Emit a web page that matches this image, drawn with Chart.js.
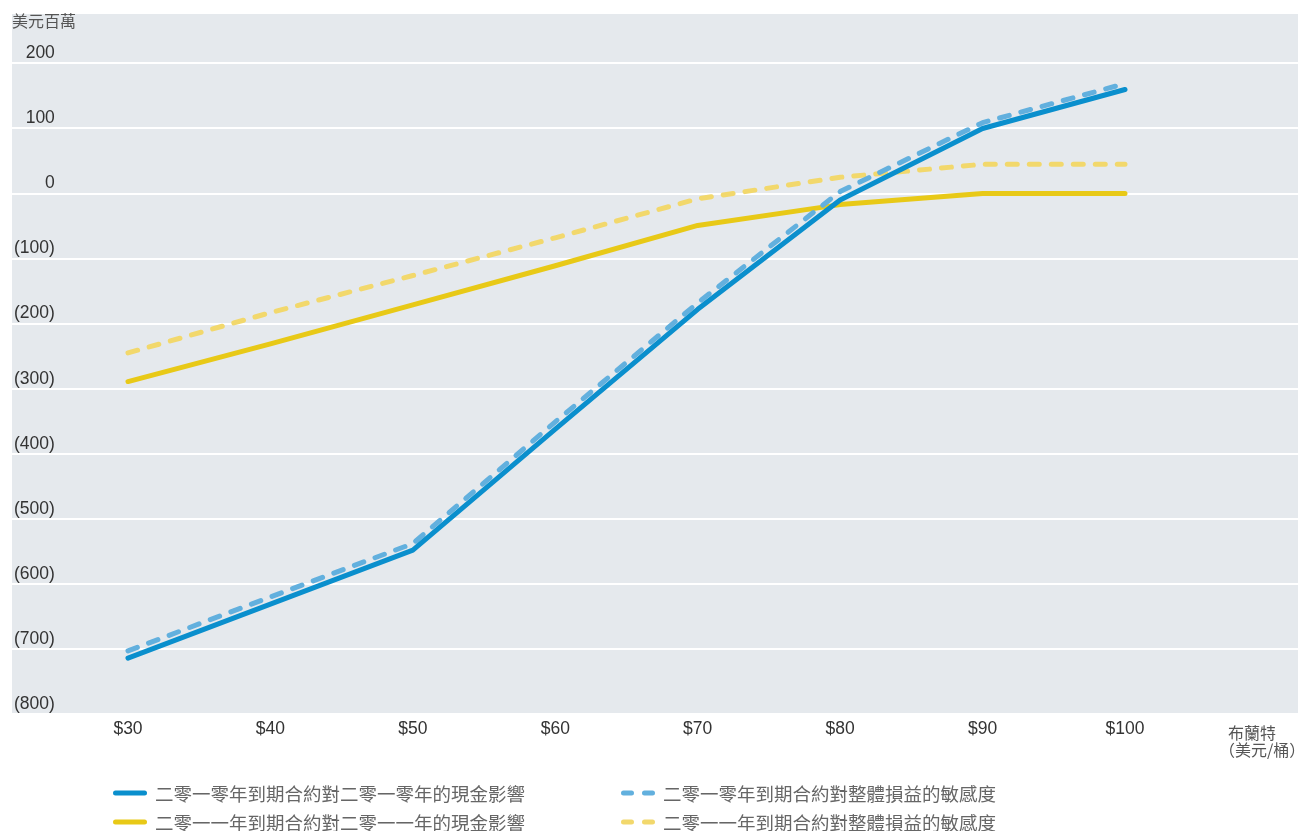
<!DOCTYPE html>
<html>
<head>
<meta charset="utf-8">
<script src="https://cdn.jsdelivr.net/npm/chart.js@4.4.0/dist/chart.umd.min.js"></script>
<style>
  html, body { margin: 0; padding: 0; background: #ffffff; }
  #wrap { position: relative; width: 1298px; height: 831px; overflow: hidden; }
  #chart { display: block; }
  #legend { position: absolute; left: 113px; top: 778px; display: grid; grid-template-columns: 508px auto; }
  .item { display: flex; align-items: center; height: 29px; font-family: "Noto Sans CJK TC", "Noto Sans", sans-serif; font-size: 18.5px; color: #666666; white-space: nowrap; }
  .item svg { margin-right: 8px; flex: none; }
</style>
</head>
<body>
<div id="wrap">
  <canvas id="chart" width="1298" height="831"></canvas>
  <div id="legend"></div>
</div>
<script>
// ---- data ----
const prices = [30, 40, 50, 60, 70, 80, 90, 100];
const cash2010 = [-714, -631, -548, -362, -178, -10, 100, 160];
const sens2010 = [-703, -620, -538, -351, -168, 3, 109, 169];
const cash2011 = [-289, -231, -171, -111, -49, -17, 0, 0];
const sens2011 = [-245, -183, -126, -68, -8, 25, 45, 45];
const yTickValues = [-800, -700, -600, -500, -400, -300, -200, -100, 0, 100, 200];
const seriesNames = [
  '二零一零年到期合約對二零一零年的現金影響',
  '二零一零年到期合約對整體損益的敏感度',
  '二零一一年到期合約對二零一一年的現金影響',
  '二零一一年到期合約對整體損益的敏感度'
];
const yUnitLabel = '美元百萬';
const xUnitLabel = ['布蘭特', '（美元/桶）'];

const colors = ['#0a8fcd', '#62b0de', '#e8c917', '#f2d86c'];
const dashes = [[], [10, 12], [], [10, 12]];
const seriesValues = [cash2010, sens2010, cash2011, sens2011];

const toPoints = vals => prices.map((p, i) => ({ x: p, y: vals[i] }));
const fmtY = v => v < 0 ? '(' + (-v) + ')' : String(v);

const bgPlugin = {
  id: 'bg',
  beforeDraw(chart) {
    const { ctx, chartArea: a } = chart;
    ctx.save();
    ctx.fillStyle = '#e5e9ed';
    ctx.fillRect(a.left, a.top, a.right - a.left, a.bottom - a.top);
    ctx.restore();
  },
  afterDraw(chart) {
    const { ctx, chartArea: a } = chart;
    ctx.save();
    ctx.font = '16px "Noto Sans CJK TC"';
    ctx.fillStyle = '#555555';
    ctx.textAlign = 'left';
    ctx.textBaseline = 'middle';
    ctx.fillText(yUnitLabel, a.left, a.top + 7);
    ctx.fillText(xUnitLabel[0], 1228, 733);
    ctx.fillText(xUnitLabel[1], 1219, 750);
    ctx.restore();
  }
};

const htmlLegend = {
  id: 'htmlLegend',
  afterUpdate(chart) {
    const box = document.getElementById('legend');
    box.innerHTML = '';
    chart.data.datasets.forEach(ds => {
      const item = document.createElement('div');
      item.className = 'item';
      const dash = (ds.borderDash && ds.borderDash.length) ? ' stroke-dasharray="8 13"' : '';
      item.innerHTML = '<svg width="34" height="8"><line x1="2.5" y1="4" x2="31.5" y2="4" stroke="' + ds.borderColor +
        '" stroke-width="5" stroke-linecap="round"' + dash + '/></svg><span>' + ds.label + '</span>';
      box.appendChild(item);
    });
  }
};

new Chart(document.getElementById('chart'), {
  type: 'line',
  data: {
    datasets: seriesValues.map((vals, i) => ({
      label: seriesNames[i],
      data: toPoints(vals),
      borderColor: colors[i],
      backgroundColor: colors[i],
      borderWidth: 5,
      borderDash: dashes[i],
      borderCapStyle: 'round',
      borderJoinStyle: 'round',
      pointRadius: 0,
      tension: 0,
      fill: false
    }))
  },
  options: {
    responsive: false,
    animation: false,
    events: [],
    layout: { padding: { left: 12, right: 0, top: 14, bottom: 86 } },
    plugins: { legend: { display: false }, tooltip: { enabled: false }, title: { display: false } },
    scales: {
      x: {
        type: 'linear',
        min: 21.856,
        max: 112.146,
        afterBuildTicks: axis => { axis.ticks = prices.map(v => ({ value: v })); },
        grid: { display: false, drawTicks: false },
        border: { display: false },
        ticks: {
          padding: 5,
          color: '#333333',
          font: { family: '"Liberation Sans", Arial, sans-serif', size: 17.5 },
          callback: v => '$' + v,
          maxRotation: 0,
          autoSkip: false
        }
      },
      y: {
        type: 'linear',
        min: -800,
        max: 276,
        afterBuildTicks: axis => { axis.ticks = yTickValues.map(v => ({ value: v })); },
        afterFit: axis => { axis.width = 0; },
        grid: { color: '#ffffff', lineWidth: 2, drawTicks: false },
        border: { display: false },
        ticks: {
          mirror: true,
          crossAlign: 'far',
          padding: 2,
          labelOffset: -10,
          color: '#333333',
          font: { family: '"Liberation Sans", Arial, sans-serif', size: 17.5 },
          callback: v => fmtY(v),
          autoSkip: false
        }
      }
    }
  },
  plugins: [bgPlugin, htmlLegend]
});
</script>
</body>
</html>
